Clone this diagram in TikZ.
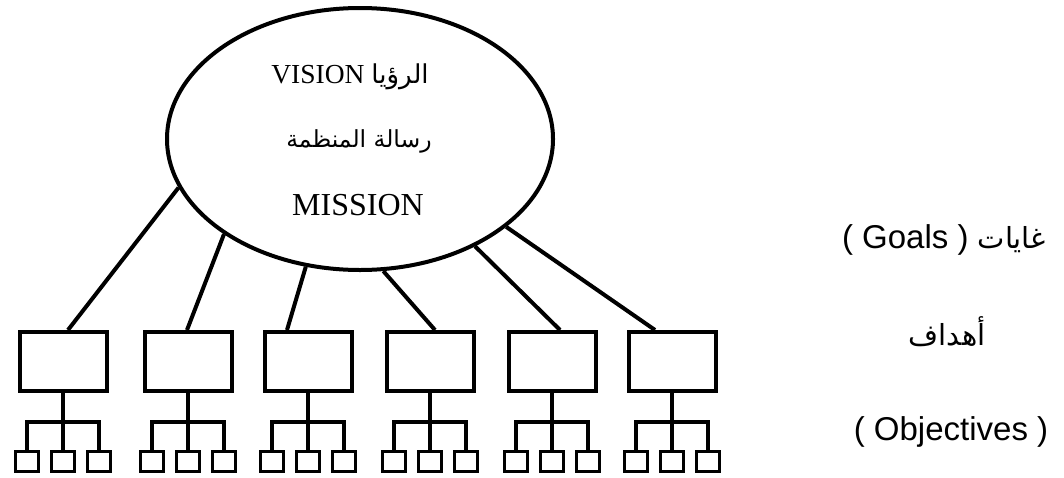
\documentclass[tikz,border=0pt]{standalone}
\usepackage{fontspec}
\setmainfont{Liberation Serif}
\newfontfamily\arabicfont[Script=Arabic]{DejaVu Sans}
\newfontfamily\arialfont{Liberation Sans}
\TeXXeTstate=1
\usetikzlibrary{shapes.geometric,calc}
\begin{document}
\begin{tikzpicture}[x=1pt,y=-1pt,
  conn/.style={line width=4pt},
  bigbox/.style={draw,line width=4pt,rectangle,minimum width=87pt,minimum height=59pt,inner sep=0pt},
  smallbox/.style={draw,line width=3.5pt,rectangle,minimum width=23pt,minimum height=20pt,inner sep=0pt},
  stem/.style={line width=3.5pt},
  bus/.style={line width=4.5pt},
  txt/.style={anchor=base,inner sep=0pt}]
\useasboundingbox (0,0) rectangle (1064,477);
\node[draw,ellipse,line width=4pt,minimum width=386pt,minimum height=262pt,inner sep=0pt] (ell) at (360,139) {};
\node[txt] (t1) at (350,83) {\fontsize{27.5}{30}\selectfont VISION \arabicfont\fontsize{26}{30}\selectfont\beginR الرؤيا\endR};
\node[txt] (t2) at (359,147) {\arabicfont\fontsize{23.5}{28}\selectfont\beginR رسالة المنظمة\endR};
\node[txt] (t3) at (358,215) {\fontsize{32}{36}\selectfont MISSION};
\node[txt] (r1) at (944,248) {\arialfont\fontsize{33}{38}\selectfont ( Goals ) \arabicfont\fontsize{29}{34}\selectfont\beginR غايات\endR};
\node[txt] (r2) at (947,345) {\arabicfont\fontsize{29}{34}\selectfont\beginR أهداف\endR};
\node[txt] (r3) at (951,440) {\arialfont\fontsize{33}{38}\selectfont ( Objectives )};
\foreach \i/\c/\dx/\ang in {1/63/5/195.6, 2/188/-1/215, 3/308/-21/247.7, 4/430/5/280.6, 5/552/8/317.3, 6/672/-17/329.9} {
  \node[bigbox] (b\i) at (\c,361.5) {};
  \node[smallbox] (s\i a) at (\c-36,461.5) {};
  \node[smallbox] (s\i b) at (\c,461.5) {};
  \node[smallbox] (s\i c) at (\c+36,461.5) {};
  \coordinate (j\i) at (\c,422);
  \draw[conn] (ell.\ang) -- ($(b\i.north)+(\dx,0)$);
  \draw[stem] (b\i.south) -- (s\i b.north);
  \draw[stem] (s\i a.north) -- (s\i a.north |- j\i);
  \draw[stem] (s\i c.north) -- (s\i c.north |- j\i);
  \draw[bus] ($(s\i a.north |- j\i)+(-1.75,0)$) -- ($(s\i c.north |- j\i)+(1.75,0)$);
}
\end{tikzpicture}
\end{document}
